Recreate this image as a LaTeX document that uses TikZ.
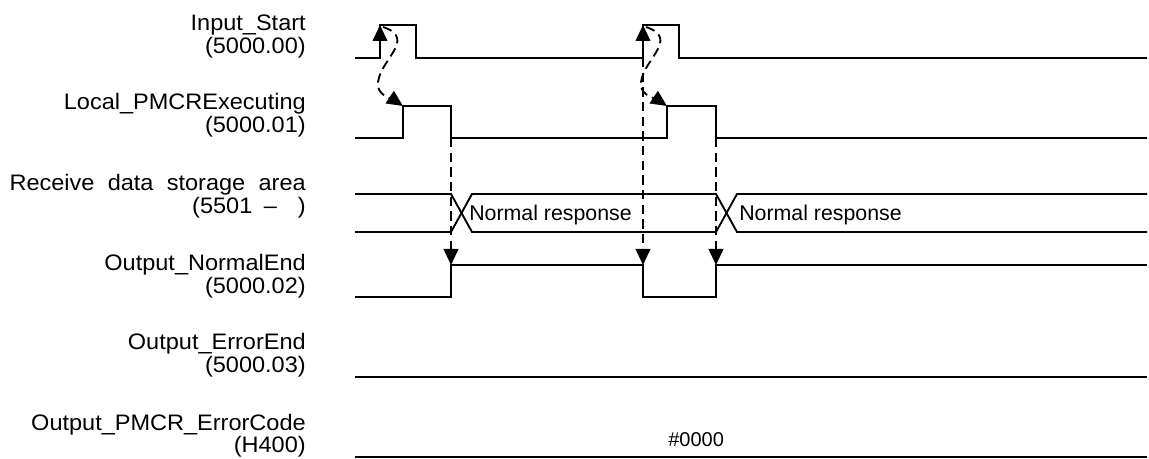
\documentclass[tikz,border=0pt]{standalone}
\usepackage{fontspec}
\setmainfont{Liberation Sans}
\usepackage{graphicx}
\usetikzlibrary{arrows.meta}
\newcommand{\wide}[1]{\scalebox{1.05}[1]{#1}}
\begin{document}
\begin{tikzpicture}[x=0.75pt,y=-0.75pt,
  sig/.style={line width=1.4pt, line join=miter},
  lbl/.style={anchor=base east, inner sep=0pt, font=\fontsize{16.8}{19}\selectfont},
  val/.style={anchor=base west, inner sep=0pt, font=\fontsize{16}{19}\selectfont},
  dsh/.style={line width=1.4pt, dash pattern=on 7pt off 4pt},
  tipped/.style={-{Triangle[width=11pt,length=12pt]}},
  ]
\useasboundingbox (0,0) rectangle (1149,459);

% labels
\node[lbl] (l1a) at (306,31) {\wide{Input\_Start}};
\node[lbl] (l1b) at (306,53.5) {\wide{(5000.00)}};
\node[lbl] (l2a) at (306,110) {\wide{Local\_PMCRExecuting}};
\node[lbl] (l2b) at (306,132.5) {\wide{(5000.01)}};
\node[lbl] (l3a) at (306,191) {\wide{Receive\hspace{9.5pt}data\hspace{9.5pt}storage\hspace{9.5pt}area}};
\node[lbl] (l3b) at (306,213.5) {\wide{(5501\hspace{8.2pt}–\hspace{15pt})}};
\node[lbl] (l4a) at (306,271) {\wide{Output\_NormalEnd}};
\node[lbl] (l4b) at (306,293.5) {\wide{(5000.02)}};
\node[lbl] (l5a) at (306,350) {\wide{Output\_ErrorEnd}};
\node[lbl] (l5b) at (306,372.5) {\wide{(5000.03)}};
\node[lbl] (l6a) at (306,430) {\wide{Output\_PMCR\_ErrorCode}};
\node[lbl] (l6b) at (306,452.5) {\wide{(H400)}};

% key coordinates
\coordinate (a1lo) at (380,58);  \coordinate (a1hi) at (380,25);
\coordinate (a2lo) at (643,58);  \coordinate (a2hi) at (643,25);
\coordinate (b1hi) at (403,106); \coordinate (b2hi) at (667,106);
\coordinate (b1f) at (451,138);  \coordinate (b2f) at (716,138);
\coordinate (n1) at (451,265);   \coordinate (n2) at (643,265); \coordinate (n3) at (716,265);

% Input_Start
\draw[sig] (355,58) -- (a1lo) -- (a1hi) -- (416,25) -- (416,58) -- (a2lo) -- (a2hi) -- (679,25) -- (679,58) -- (1147,58);
% Local_PMCRExecuting
\draw[sig] (355,138) -- (403,138) -- (b1hi) -- (451,106) -- (b1f) -- (667,138) -- (b2hi) -- (716,106) -- (b2f) -- (1147,138);
% Receive data storage area
\draw[sig] (355,194) -- (451,194) -- (472,232) -- (716,232) -- (737,194) -- (1147,194);
\draw[sig] (355,232) -- (451,232) -- (472,194) -- (716,194) -- (737,232) -- (1147,232);
\node[val] (r1) at (469,221) {Normal response};
\node[val] (r2) at (739,221) {Normal response};
% Output_NormalEnd
\draw[sig] (355,297) -- (451,297) -- (n1) -- (n2) -- (643,297) -- (716,297) -- (n3) -- (1147,265);
% Output_ErrorEnd
\draw[sig] (355,377) -- (1147,377);
% Output_PMCR_ErrorCode
\draw[sig] (355,457) -- (1147,457);
\node[val, font=\fontsize{15}{18}\selectfont] (ec) at (668,446) {\#0000};

% causal arrows
\draw[sig,tipped] (a1lo) -- (a1hi);
\draw[sig,tipped] (a2lo) -- (a2hi);
\draw[dsh,tipped] (a1hi) ++(3,2) .. controls +(36,12) and +(-2,-24) .. ++(-5,59) .. controls +(1,10) and +(-9,-6) .. (b1hi);
\draw[dsh,tipped] (a2hi) ++(3,2) .. controls +(36,12) and +(-2,-24) .. ++(-5,59) .. controls +(1,10) and +(-9,-6) .. (b2hi);
\draw[dsh,tipped] (b1f) -- (n1);
\draw[dsh,tipped] (a2lo) -- (n2);
\draw[dsh,tipped] (b2f) -- (n3);
\end{tikzpicture}
\end{document}
